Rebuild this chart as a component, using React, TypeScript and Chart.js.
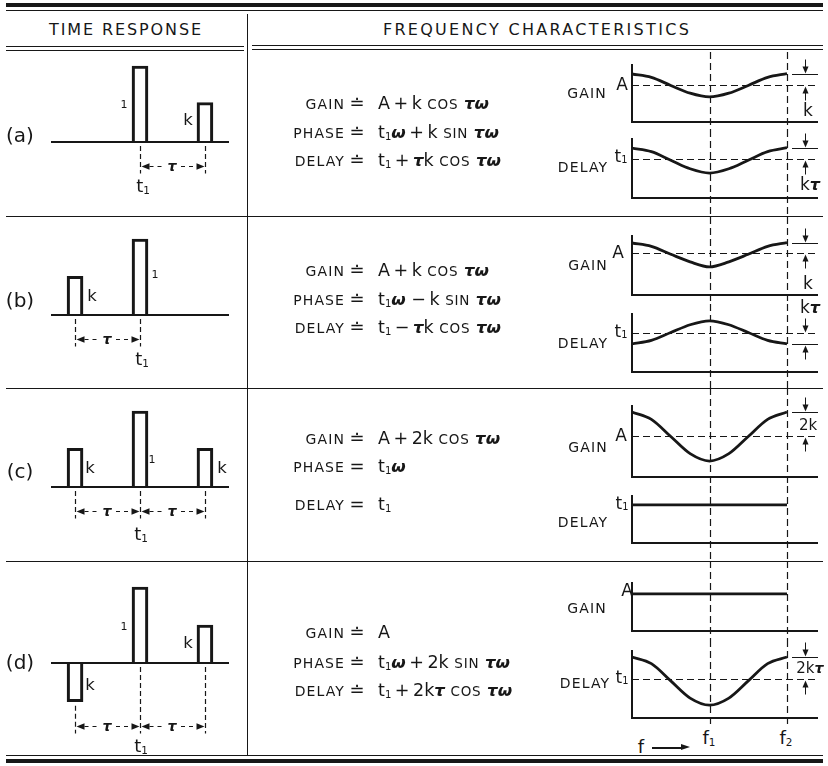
import React, { useEffect, useRef } from "react";
import { Chart, registerables } from "chart.js";

Chart.register(...registerables);

const INK = "#171717";
const FONT = '"DejaVu Sans", "Liberation Sans", sans-serif';

// ---------------- DATA ----------------
// Time response: pulse positions (in units of tau, relative to t1) and heights (main pulse = 1)
const pulseTimesA = [0, 1];
const pulseHeightsA = [1.0, 0.52];
const pulseTimesB = [-1, 0];
const pulseHeightsB = [0.51, 1.0];
const pulseTimesC = [-1, 0, 1];
const pulseHeightsC = [0.51, 1.0, 0.51];
const pulseTimesD = [-1, 0, 1];
const pulseHeightsD = [-0.51, 1.0, 0.5];

// Frequency characteristics: samples at f / f2, values relative to A (gain) or t1 (delay)
const freqPoints = [0, 0.125, 0.25, 0.375, 0.5, 0.625, 0.75, 0.875, 1];
const gainA = [1.3, 1.21, 0.99, 0.78, 0.68, 0.78, 0.99, 1.21, 1.31];
const delayA = [1.28, 1.19, 0.97, 0.75, 0.64, 0.75, 0.97, 1.19, 1.29];
const gainB = [1.24, 1.16, 0.97, 0.79, 0.67, 0.79, 0.97, 1.16, 1.25];
const delayB = [0.72, 0.81, 1.01, 1.21, 1.31, 1.21, 1.01, 0.81, 0.72];
const gainC = [1.59, 1.41, 0.99, 0.57, 0.39, 0.57, 0.99, 1.41, 1.59];
const delayC = [1, 1, 1, 1, 1, 1, 1, 1, 1];
const gainD = [1, 1, 1, 1, 1, 1, 1, 1, 1];
const delayD = [1.56, 1.39, 0.95, 0.51, 0.33, 0.51, 0.95, 1.39, 1.56];
const freqMarks = [0.5, 1]; // f1, f2
const refLevel = 1; // A or t1

// axis ranges
const timeXRange = [-1.37, 1.37];
const timeYRange = [-0.625, 1.125];
const freqXRange = [0, 1.2];

// ---------------- drawing helpers ----------------
function arrowH(ctx: any, tipX: number, y: number, dir: number) {
  ctx.beginPath();
  ctx.moveTo(tipX, y);
  ctx.lineTo(tipX - dir * 8, y - 3.2);
  ctx.lineTo(tipX - dir * 8, y + 3.2);
  ctx.closePath();
  ctx.fill();
}
function arrowV(ctx: any, x: number, tipY: number, dir: number) {
  ctx.beginPath();
  ctx.moveTo(x, tipY);
  ctx.lineTo(x - 3, tipY - dir * 7);
  ctx.lineTo(x + 3, tipY - dir * 7);
  ctx.closePath();
  ctx.fill();
}

const timeDecor = {
  id: "timeDecor",
  beforeDatasetsDraw(chart: any) {
    const { ctx, chartArea: a, scales } = chart;
    const y0 = scales.y.getPixelForValue(0);
    ctx.save();
    ctx.strokeStyle = INK;
    ctx.lineWidth = 2;
    ctx.beginPath();
    ctx.moveTo(a.left, y0);
    ctx.lineTo(a.right, y0);
    ctx.stroke();
    ctx.restore();
  },
  afterDatasetsDraw(chart: any) {
    const { ctx, scales } = chart;
    const x = scales.x;
    const y = scales.y;
    const pts = chart.data.datasets[0].data as { x: number; y: number }[];
    const low = Math.min(0, ...pts.map((p) => p.y));
    const dimY = Math.round(y.getPixelForValue(low)) + 24.5;
    ctx.save();
    ctx.strokeStyle = INK;
    ctx.fillStyle = INK;
    ctx.lineWidth = 1.2;
    const xs = pts.map((p) => Math.round(x.getPixelForValue(p.x)) + 0.5);
    ctx.setLineDash([5, 3]);
    pts.forEach((p, i) => {
      const sy = y.getPixelForValue(Math.min(0, p.y)) + 4;
      ctx.beginPath();
      ctx.moveTo(xs[i], sy);
      ctx.lineTo(xs[i], dimY + 7);
      ctx.stroke();
    });
    for (let i = 0; i < xs.length - 1; i++) {
      const l = xs[i];
      const r = xs[i + 1];
      const m = (l + r) / 2;
      ctx.setLineDash([4, 4]);
      ctx.beginPath();
      ctx.moveTo(l + 9, dimY);
      ctx.lineTo(m - 8, dimY);
      ctx.moveTo(m + 8, dimY);
      ctx.lineTo(r - 9, dimY);
      ctx.stroke();
      ctx.setLineDash([]);
      arrowH(ctx, l + 1, dimY, -1);
      arrowH(ctx, r - 1, dimY, 1);
    }
    ctx.restore();
  },
};

const freqDecor = {
  id: "freqDecor",
  beforeDatasetsDraw(chart: any, _args: any, opts: any) {
    const { ctx, chartArea: a, scales, height } = chart;
    const x = scales.x;
    const y = scales.y;
    ctx.save();
    ctx.strokeStyle = INK;
    ctx.fillStyle = INK;
    ctx.lineWidth = 1.2;
    ctx.setLineDash([7, 4]);
    freqMarks.forEach((f) => {
      const px = Math.round(x.getPixelForValue(f)) + 0.5;
      ctx.beginPath();
      ctx.moveTo(px, 0);
      ctx.lineTo(px, height);
      ctx.stroke();
    });
    if (opts && opts.marker) {
      const ry = Math.round(y.getPixelForValue(refLevel)) + 0.5;
      ctx.beginPath();
      ctx.moveTo(a.left, ry);
      ctx.lineTo(a.right, ry);
      ctx.stroke();
      ctx.setLineDash([]);
      ctx.lineWidth = 1;
      const ds = chart.data.datasets[0].data;
      const end = ds[ds.length - 1].y;
      const py = Math.round(y.getPixelForValue(end)) + 0.5;
      const x2 = x.getPixelForValue(freqMarks[1]);
      ctx.beginPath();
      ctx.moveTo(x2 + 5, py);
      ctx.lineTo(a.right, py);
      ctx.stroke();
      const ax = Math.round(a.right - 13) + 0.5;
      const upper = Math.min(py, ry);
      const lower = Math.max(py, ry);
      ctx.beginPath();
      ctx.moveTo(ax, upper - 15);
      ctx.lineTo(ax, upper - 5);
      ctx.moveTo(ax, lower + 15);
      ctx.lineTo(ax, lower + 5);
      ctx.stroke();
      arrowV(ctx, ax, upper - 1, 1);
      arrowV(ctx, ax, lower + 1, -1);
    }
    ctx.setLineDash([]);
    ctx.lineWidth = 2;
    ctx.beginPath();
    ctx.moveTo(a.left, a.top);
    ctx.lineTo(a.left, a.bottom);
    ctx.lineTo(a.right, a.bottom);
    ctx.stroke();
    ctx.restore();
  },
};

// ---------------- chart components ----------------
function TimeChart({ top, times, heights }: any) {
  const ref = useRef<HTMLCanvasElement>(null);
  useEffect(() => {
    const chart = new Chart(ref.current as HTMLCanvasElement, {
      type: "bar",
      data: {
        datasets: [
          {
            data: times.map((t: number, i: number) => ({ x: t, y: heights[i] })),
            backgroundColor: "rgba(0,0,0,0)",
            borderColor: INK,
            borderWidth: 2.5,
            borderSkipped: "start",
            barThickness: 16,
          } as any,
        ],
      },
      options: {
        animation: false,
        responsive: false,
        devicePixelRatio: 1,
        events: [],
        layout: { padding: { left: 51, right: 19, top: 9.5, bottom: 32.5 } },
        plugins: { legend: { display: false }, tooltip: { enabled: false } },
        scales: {
          x: { type: "linear", min: timeXRange[0], max: timeXRange[1], display: false, offset: false },
          y: { min: timeYRange[0], max: timeYRange[1], display: false },
        },
      } as any,
      plugins: [timeDecor],
    });
    return () => chart.destroy();
  }, []);
  return (
    <canvas
      ref={ref}
      width={248}
      height={175}
      style={{ position: "absolute", left: 0, top, width: 248, height: 175 }}
    />
  );
}

function FreqChart({ top, height, areaTop, areaBottom, yMax, values, marker }: any) {
  const ref = useRef<HTMLCanvasElement>(null);
  useEffect(() => {
    const chart = new Chart(ref.current as HTMLCanvasElement, {
      type: "line",
      data: {
        datasets: [
          {
            data: freqPoints.map((f, i) => ({ x: f, y: values[i] })),
            borderColor: INK,
            borderWidth: 2.8,
            pointRadius: 0,
            cubicInterpolationMode: "monotone",
            fill: false,
          } as any,
        ],
      },
      options: {
        animation: false,
        responsive: false,
        devicePixelRatio: 1,
        events: [],
        layout: {
          padding: { left: 72, right: 10, top: areaTop - top, bottom: top + height - areaBottom },
        },
        plugins: {
          legend: { display: false },
          tooltip: { enabled: false },
          freqDecor: { marker },
        },
        scales: {
          x: { type: "linear", min: freqXRange[0], max: freqXRange[1], display: false },
          y: { min: 0, max: yMax, display: false },
        },
      } as any,
      plugins: [freqDecor],
    });
    return () => chart.destroy();
  }, []);
  return (
    <canvas
      ref={ref}
      width={268}
      height={height}
      style={{ position: "absolute", left: 560, top, width: 268, height }}
    />
  );
}

// ---------------- text helpers ----------------
function T({ x, y, size = 17, children, style }: any) {
  return (
    <div
      style={{
        position: "absolute",
        left: x,
        top: y,
        transform: "translate(-50%,-50%)",
        fontSize: size,
        lineHeight: 1,
        whiteSpace: "nowrap",
        ...style,
      }}
    >
      {children}
    </div>
  );
}
function S1() {
  return <sub style={{ fontSize: "0.58em", verticalAlign: "-0.15em", lineHeight: 0 }}>1</sub>;
}
function G({ children }: any) {
  return <span style={{ fontStyle: "italic", fontWeight: "bold", fontSize: "0.95em" }}>{children}</span>;
}
function SC({ children }: any) {
  return (
    <span style={{ fontSize: 13.5, textTransform: "uppercase", letterSpacing: 0.8 }}>{children}</span>
  );
}
function Rule({ x, y, w, h }: any) {
  return <div style={{ position: "absolute", left: x, top: y, width: w, height: h, background: INK }} />;
}
function Eq({ y, label, sign, children }: any) {
  return (
    <div
      style={{
        position: "absolute",
        left: 230,
        top: y - 10,
        display: "flex",
        alignItems: "baseline",
        whiteSpace: "nowrap",
        lineHeight: "20px",
      }}
    >
      <span style={{ width: 115, textAlign: "right", fontSize: 14, letterSpacing: 1.1 }}>{label}</span>
      <span style={{ width: 24, textAlign: "center", fontSize: 18 }}>{sign}</span>
      <span style={{ marginLeft: 9, fontSize: 17.5 }}>{children}</span>
    </div>
  );
}
const sp = "\u2009";
const AE = "\u2250";

const smallLabel = { fontSize: 14, letterSpacing: 1.1 };

export default function App() {
  return (
    <div
      style={{
        position: "absolute",
        left: 0,
        top: 0,
        width: 828,
        height: 766,
        background: "#fff",
        overflow: "hidden",
        fontFamily: FONT,
        color: INK,
      }}
    >
      {/* table rules */}
      <Rule x={6} y={3} w={817} h={3.5} />
      <Rule x={6} y={10} w={817} h={1.2} />
      <Rule x={6} y={46} w={238} h={1.2} />
      <Rule x={6} y={50} w={238} h={1.2} />
      <Rule x={252} y={45} w={571} h={1.2} />
      <Rule x={252} y={49} w={571} h={1.2} />
      <Rule x={247} y={14} w={1.3} h={741} />
      <Rule x={6} y={216} w={817} h={1.2} />
      <Rule x={6} y={388} w={817} h={1.2} />
      <Rule x={6} y={561} w={817} h={1.2} />
      <Rule x={6} y={755} w={817} h={1.2} />
      <Rule x={6} y={759} w={817} h={3.5} />

      {/* time responses */}
      <TimeChart top={47} times={pulseTimesA} heights={pulseHeightsA} />
      <TimeChart top={220} times={pulseTimesB} heights={pulseHeightsB} />
      <TimeChart top={392} times={pulseTimesC} heights={pulseHeightsC} />
      <TimeChart top={568} times={pulseTimesD} heights={pulseHeightsD} />

      {/* frequency characteristics */}
      <FreqChart top={52} height={78} areaTop={64} areaBottom={122} yMax={1.57} values={gainA} marker />
      <FreqChart top={130} height={87} areaTop={138} areaBottom={198} yMax={1.54} values={delayA} marker />
      <FreqChart top={217} height={87} areaTop={235} areaBottom={295} yMax={1.43} values={gainB} marker />
      <FreqChart top={304} height={84} areaTop={313} areaBottom={372} yMax={1.51} values={delayB} marker />
      <FreqChart top={388} height={98} areaTop={405} areaBottom={477} yMax={1.76} values={gainC} marker />
      <FreqChart top={486} height={75} areaTop={495} areaBottom={543} yMax={1.26} values={delayC} />
      <FreqChart top={561} height={79} areaTop={582} areaBottom={631} yMax={1.32} values={gainD} />
      <FreqChart top={640} height={87} areaTop={650} areaBottom={718} yMax={1.74} values={delayD} marker />

      {/* headers */}
      <T x={126} y={30} size={16} style={{ letterSpacing: 1.9 }}>TIME RESPONSE</T>
      <T x={537} y={30} size={16} style={{ letterSpacing: 2.3 }}>FREQUENCY CHARACTERISTICS</T>

      {/* row labels */}
      <T x={20} y={135} size={20}>(a)</T>
      <T x={20} y={300} size={20}>(b)</T>
      <T x={20} y={471} size={20}>(c)</T>
      <T x={20} y={662} size={20}>(d)</T>

      {/* time-response annotations */}
      <T x={124} y={104} size={11}>1</T>
      <T x={188} y={120} size={16.5}>k</T>
      <T x={172} y={166} size={15}><G>τ</G></T>
      <T x={143} y={186} size={18}>t<S1 /></T>

      <T x={92} y={296} size={16.5}>k</T>
      <T x={155} y={274} size={11}>1</T>
      <T x={107} y={339} size={15}><G>τ</G></T>
      <T x={142} y={359} size={18}>t<S1 /></T>

      <T x={90} y={468} size={16.5}>k</T>
      <T x={152} y={459} size={11}>1</T>
      <T x={222} y={468} size={16.5}>k</T>
      <T x={107} y={511} size={15}><G>τ</G></T>
      <T x={172} y={511} size={15}><G>τ</G></T>
      <T x={141} y={534} size={18}>t<S1 /></T>

      <T x={124} y={626} size={11}>1</T>
      <T x={188} y={643} size={16.5}>k</T>
      <T x={90} y={685} size={16.5}>k</T>
      <T x={107} y={726} size={15}><G>τ</G></T>
      <T x={172} y={726} size={15}><G>τ</G></T>
      <T x={141} y={746} size={18}>t<S1 /></T>

      {/* formulas */}
      <Eq y={103} label="GAIN" sign={AE}>A{sp}+{sp}k <SC>cos</SC> <G>τω</G></Eq>
      <Eq y={132} label="PHASE" sign={AE}>t<S1 /><G>ω</G>{sp}+{sp}k <SC>sin</SC> <G>τω</G></Eq>
      <Eq y={160} label="DELAY" sign={AE}>t<S1 />{sp}+{sp}<G>τ</G>k <SC>cos</SC> <G>τω</G></Eq>

      <Eq y={270} label="GAIN" sign={AE}>A{sp}+{sp}k <SC>cos</SC> <G>τω</G></Eq>
      <Eq y={299} label="PHASE" sign={AE}>t<S1 /><G>ω</G> −{sp}k <SC>sin</SC> <G>τω</G></Eq>
      <Eq y={327} label="DELAY" sign={AE}>t<S1 />{sp}−{sp}<G>τ</G>k <SC>cos</SC> <G>τω</G></Eq>

      <Eq y={438} label="GAIN" sign={AE}>A{sp}+{sp}2k <SC>cos</SC> <G>τω</G></Eq>
      <Eq y={466} label="PHASE" sign="=">t<S1 /><G>ω</G></Eq>
      <Eq y={504} label="DELAY" sign="=">t<S1 /></Eq>

      <Eq y={632} label="GAIN" sign={AE}>A</Eq>
      <Eq y={662} label="PHASE" sign={AE}>t<S1 /><G>ω</G>{sp}+{sp}2k <SC>sin</SC> <G>τω</G></Eq>
      <Eq y={690} label="DELAY" sign={AE}>t<S1 />{sp}+{sp}2k<G>τ</G> <SC>cos</SC> <G>τω</G></Eq>

      {/* frequency plot labels */}
      <T x={587} y={93} style={smallLabel}>GAIN</T>
      <T x={622} y={84} size={17}>A</T>
      <T x={583} y={167} style={smallLabel}>DELAY</T>
      <T x={621} y={156} size={17}>t<S1 /></T>
      <T x={808} y={110} size={17}>k</T>
      <T x={810} y={185} size={17}>k<G>τ</G></T>

      <T x={588} y={265} style={smallLabel}>GAIN</T>
      <T x={618} y={252} size={17}>A</T>
      <T x={583} y={343} style={smallLabel}>DELAY</T>
      <T x={621} y={331} size={17}>t<S1 /></T>
      <T x={808} y={283} size={17}>k</T>
      <T x={810} y={308} size={17}>k<G>τ</G></T>

      <T x={588} y={447} style={smallLabel}>GAIN</T>
      <T x={621} y={435} size={17}>A</T>
      <T x={583} y={522} style={smallLabel}>DELAY</T>
      <T x={622} y={503} size={17}>t<S1 /></T>
      <T x={808} y={425} size={15}>2k</T>

      <T x={587} y={608} style={smallLabel}>GAIN</T>
      <T x={627} y={590} size={17}>A</T>
      <T x={585} y={683} style={smallLabel}>DELAY</T>
      <T x={622} y={677} size={17}>t<S1 /></T>
      <T x={810} y={668} size={15}>2k<G>τ</G></T>

      <T x={709} y={738} size={18}>f<S1 /></T>
      <T x={786} y={738} size={18}>f<sub style={{ fontSize: "0.58em", verticalAlign: "-0.15em", lineHeight: 0 }}>2</sub></T>
      <T x={641} y={747} size={18}>f</T>
      <div style={{ position: "absolute", left: 652, top: 747, width: 30, height: 1.6, background: INK }} />
      <div
        style={{
          position: "absolute",
          left: 681,
          top: 744.3,
          width: 0,
          height: 0,
          borderLeft: `9px solid ${INK}`,
          borderTop: "3.5px solid transparent",
          borderBottom: "3.5px solid transparent",
        }}
      />
    </div>
  );
}
